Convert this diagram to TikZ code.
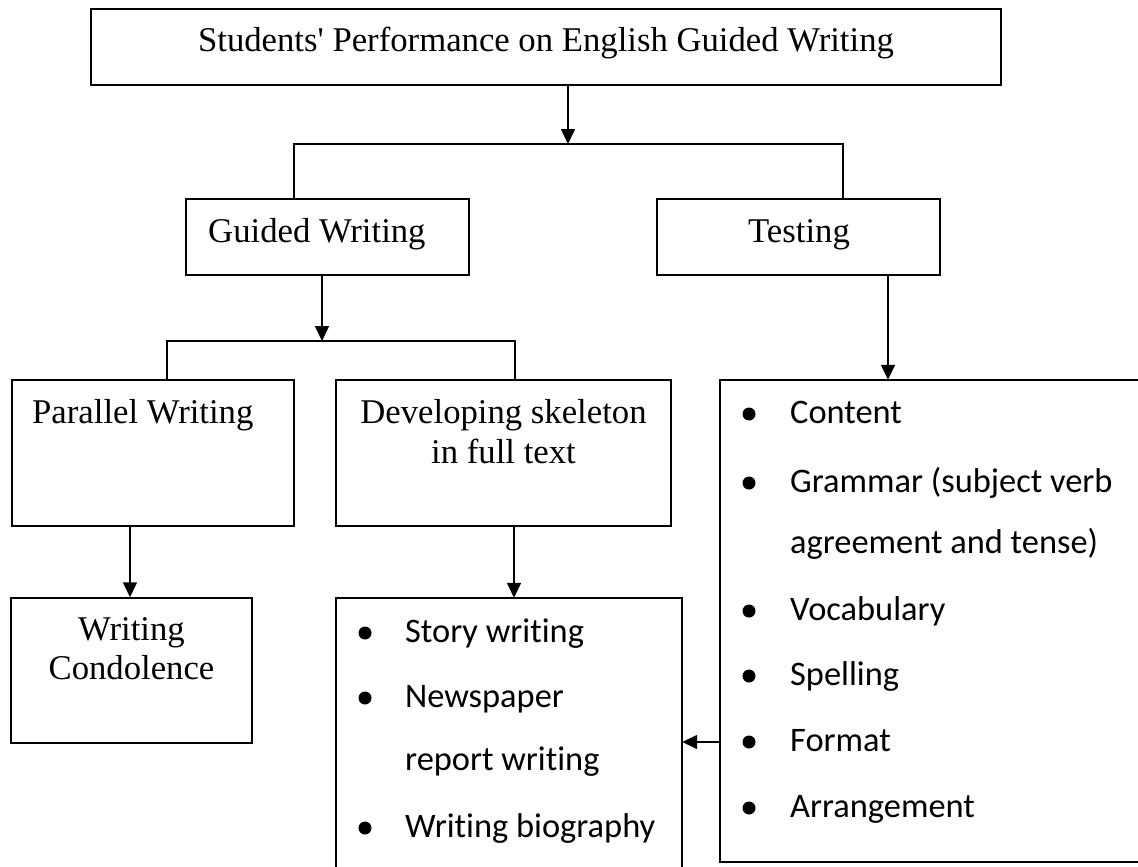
\documentclass[tikz,border=0pt]{standalone}
\usepackage{fontspec}
\setmainfont{Liberation Serif}
\newfontfamily\calfont[Ligatures=NoCommon]{Carlito}
\usetikzlibrary{arrows.meta}
\begin{document}
\begin{tikzpicture}[x=1pt,y=-1pt,
  box/.style={draw=black, line width=1.5pt, rectangle, inner sep=0pt},
  openbox/.style={rectangle, inner sep=0pt},
  con/.style={line width=1.5pt},
  arr/.style={con,-{Triangle[length=15pt,width=14pt]}},
  tnr/.style={inner sep=0pt, anchor=base, font=\fontsize{34.7}{40}\selectfont},
  cal/.style={inner sep=0pt, anchor=base west, font=\calfont\fontsize{34.4}{40}\selectfont},
  bul/.style={circle, fill=black, inner sep=0pt, minimum size=13pt}]
\useasboundingbox (0,0) rectangle (1138,867);
\clip (0,0) rectangle (1138,867);

% boxes
\node[box, minimum width=910pt, minimum height=76pt] (top) at (546,47) {};
\node[box, minimum width=283pt, minimum height=76pt] (gw) at (327.5,237) {};
\node[box, minimum width=283pt, minimum height=76pt] (test) at (798.5,237) {};
\node[box, minimum width=282pt, minimum height=146pt] (par) at (153,453) {};
\node[box, minimum width=335pt, minimum height=146pt] (dev) at (503.5,453) {};
\node[box, minimum width=241pt, minimum height=145pt] (cond) at (131.5,670.5) {};
\node[openbox, minimum width=346pt, minimum height=292pt] (story) at (509,744) {};
\draw[con] (story.south west) -- (story.north west) -- (story.north east) -- (story.south east);
\node[openbox, minimum width=480pt, minimum height=482pt] (list) at (960,621) {};
\draw[con] (list.north east) -- (list.north west) -- (list.south west) -- (list.south east);

% texts
\node[tnr] (ttl) at (546,52) {Students\textquotesingle{} Performance on English Guided Writing};
\node[tnr, anchor=base west] (gwt) at (208,242) {Guided Writing};
\node[tnr] (tt) at (799,242) {Testing};
\node[tnr, anchor=base west] (pt) at (32,423) {Parallel Writing};
\node[tnr] (dt1) at (503.5,423) {Developing skeleton};
\node[tnr] (dt2) at (503.5,463) {in full text};
\node[tnr] (ct1) at (131.5,640) {Writing};
\node[tnr] (ct2) at (131.5,679) {Condolence};

% story list
\node[bul] (sb1) at (365,633) {};
\node[cal] (s1) at (405,642) {Story writing};
\node[bul] (sb2) at (365,698) {};
\node[cal] (s2) at (405,707) {Newspaper};
\node[cal] (s3) at (405,770) {report writing};
\node[bul] (sb4) at (365,828) {};
\node[cal] (s4) at (405,837) {Writing biography};

% testing list
\node[bul] (lb1) at (749,414) {};
\node[cal] (l1) at (790,423) {Content};
\node[bul] (lb2) at (749,483) {};
\node[cal] (l2) at (790,492) {Grammar (subject verb};
\node[cal] (l3) at (790,553) {agreement and tense)};
\node[bul] (lb4) at (749,611) {};
\node[cal] (l4) at (790,620) {Vocabulary};
\node[bul] (lb5) at (749,676) {};
\node[cal] (l5) at (790,685) {Spelling};
\node[bul] (lb6) at (749,742) {};
\node[cal] (l6) at (790,751) {Format};
\node[bul] (lb7) at (749,808) {};
\node[cal] (l7) at (790,817) {Arrangement};

% connectors
\coordinate (j0) at (568,144);
\coordinate (jl) at (294,144);
\coordinate (jr) at (843,144);
\draw[arr] (top.south -| j0) -- (j0);
\draw[con] (gw.north -| jl) -- (jl) -- (jr) -- (test.north -| jr);

\coordinate (k0) at (322,341);
\coordinate (kl) at (167,341);
\coordinate (kr) at (515,341);
\draw[arr] (gw.south -| k0) -- (k0);
\draw[con] (par.north -| kl) -- (kl) -- (kr) -- (dev.north -| kr);

\coordinate (pa) at (130,0);
\draw[arr] (par.south -| pa) -- (cond.north -| pa);
\coordinate (da) at (514,0);
\draw[arr] (dev.south -| da) -- (story.north -| da);
\coordinate (ta) at (888,0);
\draw[arr] (test.south -| ta) -- (list.north -| ta);
\coordinate (la) at (0,742);
\draw[arr] (list.west |- la) -- (story.east |- la);
\end{tikzpicture}
\end{document}
